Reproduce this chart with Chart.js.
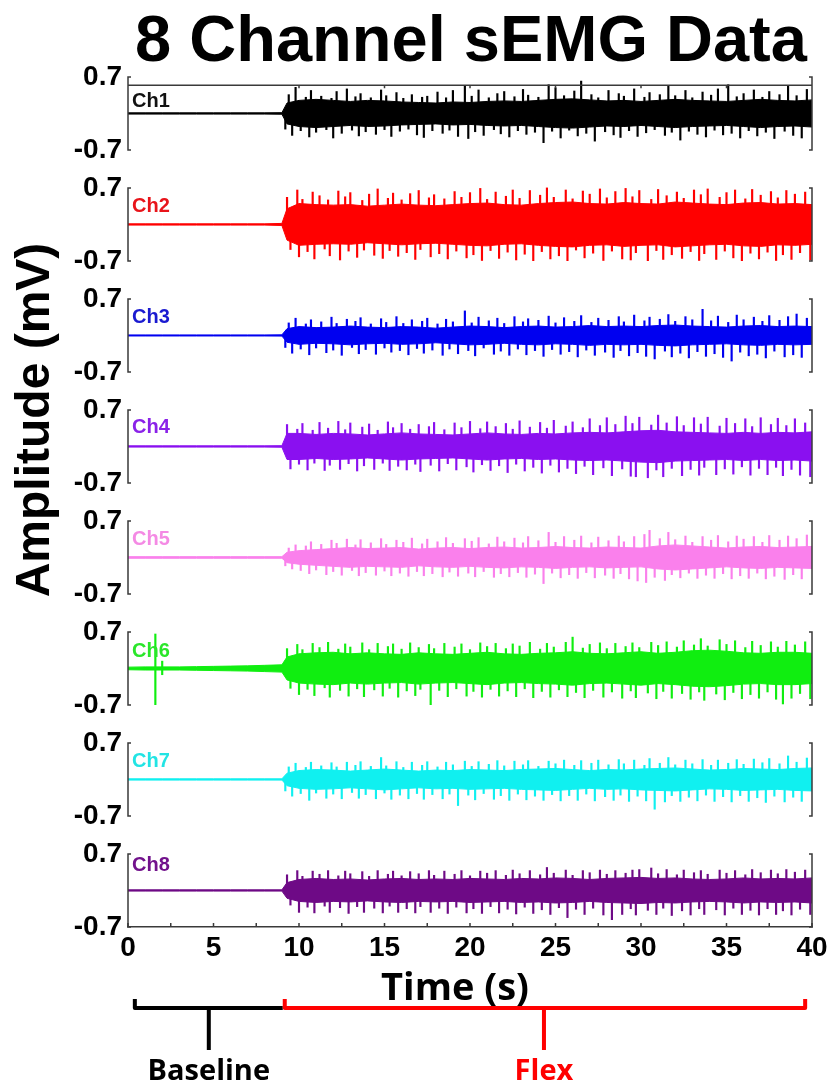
<!DOCTYPE html>
<html>
<head>
<meta charset="utf-8">
<title>8 Channel sEMG Data</title>
<script src="https://cdn.jsdelivr.net/npm/chart.js@4.4.1/dist/chart.umd.min.js"></script>
<style>
  html, body { margin: 0; padding: 0; background: #fff; }
  #wrap { position: relative; width: 831px; height: 1085px; }
</style>
</head>
<body>
<div id="wrap"><canvas id="emg" width="831" height="1085"></canvas></div>
<script>
// 8 channel surface EMG: rest 0-9 s, then flexion to 40 s

const channelNames = ['Ch1', 'Ch2', 'Ch3', 'Ch4', 'Ch5', 'Ch6', 'Ch7', 'Ch8'];
const channelColors = ['#000000', '#ff0000', '#0000f0', '#8a10f0', '#fa80ec', '#10ee10', '#10f0f0', '#6e0a86'];
const labelColors = ['#111111', '#e8141a', '#1a1ad0', '#8a22e8', '#f48ae4', '#2ae62a', '#22e4e4', '#72128c'];
const yTickLabels = ['-0.7', '0.7'];
const xTickLabels = ['0', '5', '10', '15', '20', '25', '30', '35', '40'];

// time base of the dense band (s)
const coreT = [
  0, 1, 2, 3, 4, 5, 6, 7, 8, 9,
  9.3, 10, 11, 12, 13, 14, 15, 16, 17, 18,
  19, 20, 21, 22, 23, 24, 25, 26, 27, 28,
  29, 30, 31, 32, 33, 34, 35, 36, 37, 38,
  39, 40
];
// spike times (s); odd channels use set A, even channels set B
const peakTA = [
  9.4, 9.8, 10.4, 10.7, 11.3, 11.9, 12.2, 12.8, 13.3, 13.6,
  14.2, 14.8, 15.1, 15.7, 16.1, 16.6, 17.2, 17.5, 18.1, 18.6,
  19.0, 19.7, 20.1, 20.5, 21.1, 21.6, 22.0, 22.6, 23.1, 23.4,
  24.0, 24.6, 25.0, 25.5, 26.1, 26.5, 27.1, 27.5, 28.1, 28.7,
  29.0, 29.6, 30.2, 30.5, 31.1, 31.6, 32.0, 32.6, 33.0, 33.6,
  34.1, 34.5, 35.1, 35.6, 36.0, 36.6, 37.1, 37.5, 38.1, 38.6,
  39.1, 39.7
];
const troughTA = [
  9.2, 9.6, 10.1, 10.6, 11.0, 11.6, 12.0, 12.5, 13.1, 13.5,
  13.9, 14.5, 15.0, 15.4, 15.9, 16.4, 16.9, 17.3, 17.8, 18.4,
  18.8, 19.3, 19.9, 20.3, 20.8, 21.4, 21.8, 22.3, 22.8, 23.3,
  23.8, 24.3, 24.8, 25.3, 25.8, 26.3, 26.8, 27.3, 27.9, 28.4,
  28.8, 29.3, 29.8, 30.3, 30.8, 31.4, 31.8, 32.3, 32.8, 33.3,
  33.8, 34.3, 34.8, 35.3, 35.8, 36.3, 36.8, 37.3, 37.8, 38.4,
  38.9, 39.4
];
const peakTB = [
  9.3, 9.9, 10.2, 10.8, 11.2, 11.7, 12.3, 12.7, 13.0, 13.7,
  14.1, 14.6, 15.2, 15.5, 16.0, 16.5, 17.0, 17.6, 17.9, 18.5,
  19.1, 19.5, 20.0, 20.6, 21.0, 21.5, 22.1, 22.5, 22.9, 23.5,
  24.1, 24.5, 24.9, 25.6, 26.0, 26.6, 27.0, 27.6, 28.0, 28.5,
  29.1, 29.5, 29.9, 30.6, 31.0, 31.5, 32.1, 32.5, 33.1, 33.5,
  33.9, 34.6, 35.0, 35.5, 36.1, 36.5, 37.0, 37.6, 38.0, 38.5,
  39.0, 39.6
];
const troughTB = [
  9.5, 10.0, 10.5, 10.9, 11.5, 11.8, 12.4, 12.9, 13.4, 13.8,
  14.4, 14.9, 15.3, 15.8, 16.3, 16.8, 17.1, 17.7, 18.2, 18.7,
  19.2, 19.8, 20.2, 20.7, 21.2, 21.7, 22.2, 22.7, 23.2, 23.7,
  24.2, 24.7, 25.2, 25.7, 26.2, 26.7, 27.2, 27.8, 28.3, 28.9,
  29.4, 29.7, 30.4, 30.9, 31.3, 31.8, 32.4, 32.9, 33.4, 33.7,
  34.4, 34.9, 35.4, 35.9, 36.4, 36.9, 37.4, 37.9, 38.3, 38.8,
  39.3, 39.9
];

// dense-band half amplitude (mV) at coreT
const ch1Core = [
  0.012, 0.012, 0.012, 0.012, 0.012, 0.012, 0.012, 0.012, 0.012, 0.015,
  0.20, 0.25, 0.27, 0.25, 0.23, 0.25, 0.24, 0.22, 0.21, 0.20,
  0.22, 0.21, 0.23, 0.24, 0.23, 0.25, 0.27, 0.28, 0.26, 0.24,
  0.25, 0.23, 0.25, 0.27, 0.25, 0.24, 0.23, 0.25, 0.27, 0.25,
  0.24, 0.26
];
const ch2Core = [
  0.012, 0.012, 0.012, 0.012, 0.012, 0.012, 0.012, 0.012, 0.012, 0.02,
  0.30, 0.40, 0.38, 0.37, 0.38, 0.35, 0.37, 0.39, 0.37, 0.36,
  0.38, 0.40, 0.41, 0.38, 0.37, 0.40, 0.42, 0.43, 0.40, 0.39,
  0.42, 0.40, 0.39, 0.43, 0.41, 0.39, 0.38, 0.41, 0.42, 0.39,
  0.40, 0.38
];
const ch3Core = [
  0.010, 0.010, 0.010, 0.010, 0.010, 0.010, 0.010, 0.010, 0.010, 0.012,
  0.13, 0.17, 0.15, 0.16, 0.18, 0.16, 0.15, 0.17, 0.16, 0.14,
  0.16, 0.18, 0.17, 0.15, 0.17, 0.18, 0.16, 0.17, 0.19, 0.17,
  0.18, 0.17, 0.19, 0.20, 0.18, 0.17, 0.16, 0.18, 0.19, 0.17,
  0.18, 0.17
];
const ch4Core = [
  0.012, 0.012, 0.012, 0.012, 0.012, 0.012, 0.012, 0.012, 0.012, 0.015,
  0.25, 0.25, 0.23, 0.25, 0.24, 0.22, 0.24, 0.26, 0.24, 0.23,
  0.22, 0.24, 0.26, 0.24, 0.23, 0.25, 0.24, 0.26, 0.27, 0.26,
  0.28, 0.30, 0.31, 0.28, 0.27, 0.26, 0.25, 0.27, 0.25, 0.27,
  0.26, 0.28
];
const ch5Core = [
  0.015, 0.015, 0.015, 0.015, 0.015, 0.015, 0.015, 0.015, 0.015, 0.015,
  0.10, 0.13, 0.15, 0.17, 0.19, 0.17, 0.18, 0.19, 0.16, 0.18,
  0.19, 0.17, 0.19, 0.20, 0.18, 0.19, 0.21, 0.19, 0.18, 0.20,
  0.19, 0.18, 0.22, 0.24, 0.22, 0.20, 0.18, 0.20, 0.21, 0.19,
  0.20, 0.21
];
const ch6Core = [
  0.025, 0.03, 0.03, 0.03, 0.035, 0.04, 0.045, 0.05, 0.06, 0.07,
  0.22, 0.28, 0.30, 0.31, 0.28, 0.30, 0.28, 0.27, 0.30, 0.28,
  0.27, 0.29, 0.31, 0.28, 0.27, 0.29, 0.30, 0.32, 0.29, 0.28,
  0.30, 0.32, 0.29, 0.31, 0.34, 0.35, 0.33, 0.30, 0.29, 0.31,
  0.31, 0.29
];
const ch7Core = [
  0.012, 0.012, 0.012, 0.012, 0.012, 0.012, 0.012, 0.012, 0.012, 0.012,
  0.12, 0.17, 0.19, 0.18, 0.16, 0.18, 0.20, 0.18, 0.16, 0.18,
  0.17, 0.19, 0.18, 0.17, 0.19, 0.20, 0.21, 0.19, 0.17, 0.19,
  0.18, 0.20, 0.21, 0.22, 0.20, 0.18, 0.19, 0.21, 0.20, 0.19,
  0.21, 0.22
];
const ch8Core = [
  0.012, 0.012, 0.012, 0.012, 0.012, 0.012, 0.012, 0.012, 0.012, 0.012,
  0.15, 0.21, 0.23, 0.21, 0.22, 0.20, 0.22, 0.23, 0.21, 0.22,
  0.21, 0.23, 0.22, 0.21, 0.23, 0.22, 0.24, 0.23, 0.21, 0.23,
  0.24, 0.25, 0.23, 0.24, 0.22, 0.21, 0.22, 0.24, 0.22, 0.23,
  0.22, 0.24
];

// positive spike tips (mV)
const ch1Peak = [
  0.36, 0.50, 0.31, 0.44, 0.33, 0.29, 0.42, 0.47, 0.32, 0.38,
  0.30, 0.45, 0.34, 0.40, 0.29, 0.36, 0.31, 0.33, 0.41, 0.30,
  0.44, 0.52, 0.33, 0.45, 0.30, 0.38, 0.42, 0.32, 0.46, 0.35,
  0.31, 0.55, 0.49, 0.34, 0.43, 0.62, 0.36, 0.30, 0.44, 0.38,
  0.33, 0.47, 0.31, 0.40, 0.36, 0.52, 0.34, 0.44, 0.30, 0.41,
  0.35, 0.47, 0.55, 0.32, 0.38, 0.45, 0.31, 0.42, 0.36, 0.52,
  0.34, 0.46
];
const ch2Peak = [
  0.52, 0.66, 0.48, 0.62, 0.55, 0.47, 0.64, 0.53, 0.61, 0.46,
  0.58, 0.68, 0.50, 0.60, 0.47, 0.59, 0.65, 0.51, 0.57, 0.49,
  0.63, 0.52, 0.61, 0.69, 0.48, 0.62, 0.54, 0.66, 0.50, 0.65,
  0.56, 0.70, 0.52, 0.66, 0.49, 0.64, 0.58, 0.68, 0.51, 0.63,
  0.69, 0.53, 0.65, 0.48, 0.67, 0.55, 0.62, 0.50, 0.66, 0.57,
  0.68, 0.52, 0.61, 0.66, 0.49, 0.67, 0.56, 0.63, 0.51, 0.65,
  0.58, 0.62
];
const ch3Peak = [
  0.24, 0.33, 0.22, 0.30, 0.26, 0.35, 0.23, 0.31, 0.27, 0.34,
  0.22, 0.32, 0.25, 0.36, 0.23, 0.30, 0.27, 0.33, 0.22, 0.31,
  0.26, 0.47, 0.24, 0.35, 0.28, 0.33, 0.23, 0.36, 0.26, 0.32,
  0.29, 0.37, 0.24, 0.34, 0.27, 0.38, 0.25, 0.33, 0.29, 0.36,
  0.26, 0.39, 0.28, 0.35, 0.31, 0.40, 0.27, 0.36, 0.30, 0.50,
  0.28, 0.37, 0.25, 0.39, 0.30, 0.35, 0.27, 0.38, 0.29, 0.36,
  0.41, 0.33
];
const ch4Peak = [
  0.42, 0.33, 0.44, 0.31, 0.46, 0.35, 0.48, 0.32, 0.45, 0.37,
  0.43, 0.31, 0.47, 0.36, 0.44, 0.33, 0.42, 0.38, 0.46, 0.32,
  0.45, 0.36, 0.48, 0.34, 0.47, 0.38, 0.44, 0.33, 0.49, 0.37,
  0.46, 0.35, 0.50, 0.39, 0.47, 0.36, 0.53, 0.40, 0.55, 0.42,
  0.58, 0.44, 0.56, 0.41, 0.60, 0.45, 0.57, 0.40, 0.55, 0.43,
  0.56, 0.39, 0.54, 0.44, 0.53, 0.38, 0.55, 0.42, 0.54, 0.40,
  0.53, 0.45
];
const ch5Peak = [
  0.18, 0.24, 0.22, 0.30, 0.25, 0.33, 0.27, 0.35, 0.24, 0.34,
  0.28, 0.36, 0.25, 0.33, 0.29, 0.37, 0.26, 0.35, 0.30, 0.38,
  0.27, 0.36, 0.31, 0.38, 0.26, 0.39, 0.30, 0.37, 0.28, 0.40,
  0.32, 0.48, 0.29, 0.40, 0.33, 0.41, 0.28, 0.39, 0.32, 0.41,
  0.30, 0.40, 0.44, 0.52, 0.36, 0.48, 0.34, 0.41, 0.29, 0.40,
  0.33, 0.42, 0.30, 0.41, 0.35, 0.40, 0.29, 0.42, 0.33, 0.41,
  0.36, 0.43
];
const ch6Peak = [
  0.38, 0.46, 0.36, 0.48, 0.40, 0.50, 0.37, 0.47, 0.41, 0.49,
  0.36, 0.48, 0.42, 0.47, 0.37, 0.49, 0.40, 0.46, 0.38, 0.48,
  0.41, 0.47, 0.36, 0.49, 0.42, 0.48, 0.38, 0.47, 0.43, 0.50,
  0.37, 0.48, 0.41, 0.50, 0.60, 0.39, 0.46, 0.49, 0.38, 0.48,
  0.42, 0.49, 0.40, 0.50, 0.44, 0.51, 0.41, 0.53, 0.45, 0.57,
  0.43, 0.55, 0.46, 0.53, 0.40, 0.52, 0.44, 0.51, 0.41, 0.52,
  0.45, 0.51
];
const ch7Peak = [
  0.24, 0.31, 0.23, 0.33, 0.26, 0.32, 0.24, 0.33, 0.27, 0.34,
  0.25, 0.42, 0.26, 0.34, 0.23, 0.33, 0.27, 0.34, 0.24, 0.33,
  0.28, 0.35, 0.25, 0.34, 0.29, 0.36, 0.26, 0.35, 0.28, 0.36,
  0.25, 0.35, 0.30, 0.37, 0.27, 0.36, 0.31, 0.37, 0.28, 0.38,
  0.30, 0.37, 0.27, 0.40, 0.31, 0.42, 0.28, 0.37, 0.30, 0.38,
  0.27, 0.37, 0.31, 0.38, 0.29, 0.39, 0.32, 0.40, 0.30, 0.45,
  0.33, 0.41
];
const ch8Peak = [
  0.30, 0.38, 0.27, 0.37, 0.31, 0.38, 0.28, 0.37, 0.32, 0.36,
  0.27, 0.38, 0.31, 0.37, 0.28, 0.36, 0.32, 0.38, 0.29, 0.37,
  0.31, 0.38, 0.28, 0.37, 0.33, 0.38, 0.29, 0.39, 0.32, 0.38,
  0.30, 0.44, 0.33, 0.39, 0.29, 0.38, 0.34, 0.39, 0.31, 0.38,
  0.33, 0.39, 0.40, 0.43, 0.32, 0.40, 0.30, 0.39, 0.34, 0.38,
  0.31, 0.39, 0.33, 0.38, 0.30, 0.40, 0.34, 0.39, 0.32, 0.40,
  0.35, 0.39
];

// negative spike tips (mV)
const ch1Trough = [
  -0.30, -0.42, -0.33, -0.45, -0.36, -0.31, -0.47, -0.38, -0.32, -0.43,
  -0.35, -0.40, -0.31, -0.44, -0.34, -0.30, -0.41, -0.46, -0.33, -0.38,
  -0.32, -0.44, -0.48, -0.35, -0.42, -0.31, -0.39, -0.45, -0.33, -0.40,
  -0.36, -0.56, -0.34, -0.47, -0.32, -0.43, -0.38, -0.53, -0.35, -0.41,
  -0.46, -0.33, -0.44, -0.37, -0.31, -0.42, -0.36, -0.51, -0.34, -0.40,
  -0.45, -0.32, -0.41, -0.38, -0.47, -0.33, -0.43, -0.36, -0.48, -0.34,
  -0.42, -0.47
];
const ch2Trough = [
  -0.48, -0.62, -0.52, -0.66, -0.47, -0.60, -0.68, -0.51, -0.63, -0.49,
  -0.59, -0.65, -0.50, -0.61, -0.54, -0.67, -0.48, -0.62, -0.56, -0.66,
  -0.51, -0.64, -0.58, -0.69, -0.50, -0.65, -0.53, -0.68, -0.57, -0.70,
  -0.52, -0.66, -0.60, -0.70, -0.49, -0.64, -0.55, -0.69, -0.51, -0.66,
  -0.68, -0.54, -0.70, -0.50, -0.67, -0.58, -0.65, -0.52, -0.69, -0.56,
  -0.67, -0.51, -0.64, -0.70, -0.55, -0.66, -0.53, -0.69, -0.58, -0.67,
  -0.54, -0.68
];
const ch3Trough = [
  -0.23, -0.34, -0.26, -0.37, -0.24, -0.33, -0.28, -0.38, -0.23, -0.35,
  -0.27, -0.36, -0.24, -0.32, -0.29, -0.37, -0.25, -0.34, -0.28, -0.38,
  -0.26, -0.35, -0.29, -0.39, -0.24, -0.36, -0.30, -0.38, -0.26, -0.37,
  -0.29, -0.40, -0.27, -0.36, -0.31, -0.41, -0.28, -0.38, -0.32, -0.42,
  -0.29, -0.39, -0.33, -0.40, -0.45, -0.30, -0.41, -0.34, -0.43, -0.31,
  -0.40, -0.35, -0.42, -0.49, -0.32, -0.39, -0.36, -0.43, -0.30, -0.41,
  -0.37, -0.42
];
const ch4Trough = [
  -0.43, -0.34, -0.45, -0.32, -0.46, -0.36, -0.44, -0.33, -0.47, -0.37,
  -0.44, -0.32, -0.46, -0.38, -0.45, -0.34, -0.48, -0.36, -0.47, -0.33,
  -0.45, -0.39, -0.49, -0.35, -0.46, -0.37, -0.50, -0.34, -0.47, -0.40,
  -0.51, -0.36, -0.49, -0.42, -0.52, -0.38, -0.54, -0.41, -0.56, -0.43,
  -0.57, -0.58, -0.60, -0.45, -0.58, -0.42, -0.56, -0.44, -0.55, -0.40,
  -0.54, -0.43, -0.53, -0.39, -0.55, -0.42, -0.54, -0.40, -0.56, -0.44,
  -0.55, -0.58
];
const ch5Trough = [
  -0.16, -0.22, -0.25, -0.31, -0.24, -0.33, -0.27, -0.34, -0.25, -0.35,
  -0.29, -0.34, -0.26, -0.35, -0.30, -0.36, -0.27, -0.35, -0.31, -0.37,
  -0.28, -0.36, -0.30, -0.37, -0.27, -0.38, -0.31, -0.37, -0.29, -0.38,
  -0.32, -0.50, -0.30, -0.39, -0.33, -0.40, -0.29, -0.39, -0.34, -0.40,
  -0.31, -0.41, -0.45, -0.48, -0.38, -0.44, -0.33, -0.39, -0.30, -0.40,
  -0.34, -0.40, -0.31, -0.41, -0.35, -0.40, -0.30, -0.41, -0.36, -0.42,
  -0.33, -0.41
];
const ch6Trough = [
  -0.38, -0.50, -0.40, -0.52, -0.37, -0.55, -0.42, -0.53, -0.39, -0.54,
  -0.41, -0.53, -0.38, -0.55, -0.43, -0.52, -0.40, -0.70, -0.42, -0.54,
  -0.39, -0.53, -0.44, -0.55, -0.40, -0.53, -0.43, -0.54, -0.39, -0.56,
  -0.44, -0.55, -0.41, -0.54, -0.46, -0.56, -0.42, -0.55, -0.45, -0.57,
  -0.43, -0.56, -0.47, -0.58, -0.44, -0.57, -0.48, -0.59, -0.45, -0.61,
  -0.49, -0.60, -0.46, -0.58, -0.50, -0.57, -0.45, -0.59, -0.68, -0.57,
  -0.48, -0.58
];
const ch7Trough = [
  -0.22, -0.32, -0.27, -0.40, -0.26, -0.36, -0.28, -0.37, -0.25, -0.36,
  -0.29, -0.37, -0.26, -0.38, -0.30, -0.37, -0.27, -0.38, -0.29, -0.37,
  -0.28, -0.50, -0.30, -0.39, -0.27, -0.38, -0.31, -0.40, -0.28, -0.39,
  -0.32, -0.40, -0.29, -0.41, -0.31, -0.40, -0.28, -0.41, -0.33, -0.40,
  -0.30, -0.42, -0.32, -0.41, -0.57, -0.43, -0.31, -0.42, -0.34, -0.41,
  -0.30, -0.42, -0.33, -0.43, -0.31, -0.42, -0.35, -0.44, -0.32, -0.43,
  -0.34, -0.42
];
const ch8Trough = [
  -0.28, -0.42, -0.32, -0.43, -0.30, -0.42, -0.33, -0.44, -0.31, -0.42,
  -0.34, -0.43, -0.30, -0.42, -0.35, -0.43, -0.31, -0.42, -0.34, -0.44,
  -0.32, -0.43, -0.35, -0.44, -0.31, -0.43, -0.36, -0.45, -0.32, -0.44,
  -0.37, -0.46, -0.33, -0.52, -0.36, -0.46, -0.34, -0.47, -0.56, -0.46,
  -0.35, -0.47, -0.38, -0.46, -0.34, -0.48, -0.39, -0.47, -0.35, -0.46,
  -0.37, -0.47, -0.34, -0.46, -0.38, -0.47, -0.35, -0.46, -0.39, -0.47,
  -0.36, -0.46
];

// movement artefact on Ch6 during rest
const ch6ArtifactT = [1.6, 2.0];
const ch6ArtifactHi = [0.66, 0.14];
const ch6ArtifactLo = [-0.70, -0.12];

// task phases under the time axis
const phaseNames = ['Baseline', 'Flex'];
const phaseStart = [0.4, 9.05];
const phaseEnd = [9.05, 39.6];
const phaseColors = ['#000000', '#ff0000'];

const coreSets = [ch1Core, ch2Core, ch3Core, ch4Core, ch5Core, ch6Core, ch7Core, ch8Core];
const peakSets = [ch1Peak, ch2Peak, ch3Peak, ch4Peak, ch5Peak, ch6Peak, ch7Peak, ch8Peak];
const troughSets = [ch1Trough, ch2Trough, ch3Trough, ch4Trough, ch5Trough, ch6Trough, ch7Trough, ch8Trough];

// label baseline inside each strip, in mV
const labelLevel = [0.13, 0.23, 0.23, 0.25, 0.23, 0.21, 0.23, 0.38];

const FONT = "'Liberation Sans', Arial, sans-serif";
const SOFT = "'Open Sans', 'Liberation Sans', sans-serif";
const AXIS = '#3a3a3a';
const GAP = 0.726; // blank space above each strip, in mV

Chart.defaults.font.family = FONT;

const datasets = [];
channelNames.forEach((name, i) => {
  const axis = 'y' + (i + 1);
  const col = channelColors[i];
  const pT = i % 2 ? peakTB : peakTA;
  const tT = i % 2 ? troughTB : troughTA;
  datasets.push({
    type: 'line', label: name + ' +', yAxisID: axis,
    data: coreT.map((t, k) => ({ x: t, y: coreSets[i][k] })),
    borderColor: col, borderWidth: 1, pointRadius: 0, tension: 0, fill: false
  });
  datasets.push({
    type: 'line', label: name + ' -', yAxisID: axis,
    data: coreT.map((t, k) => ({ x: t, y: -coreSets[i][k] })),
    borderColor: col, borderWidth: 1, pointRadius: 0, tension: 0,
    backgroundColor: col, fill: '-1'
  });
  datasets.push({
    type: 'bar', label: name + ' peaks', yAxisID: axis,
    data: pT.map((t, k) => ({ x: t, y: [0, peakSets[i][k]] })),
    backgroundColor: col, barThickness: 1.5, grouped: false
  });
  datasets.push({
    type: 'bar', label: name + ' troughs', yAxisID: axis,
    data: tT.map((t, k) => ({ x: t, y: [troughSets[i][k], 0] })),
    backgroundColor: col, barThickness: 1.5, grouped: false
  });
});
datasets.push({
  type: 'bar', label: 'Ch6 artefact', yAxisID: 'y6',
  data: ch6ArtifactT.map((t, k) => ({ x: t, y: [ch6ArtifactLo[k], ch6ArtifactHi[k]] })),
  backgroundColor: channelColors[5], barThickness: 1.5, grouped: false
});

// one strip per channel, stacked down the left side
const scales = {
  x: {
    type: 'linear', position: 'bottom', min: 0, max: 40, offset: false,
    grid: { display: false, drawTicks: false, offset: false },
    border: { display: true, color: AXIS, width: 1.5 },
    afterBuildTicks: s => { s.ticks = xTickLabels.map(v => ({ value: Number(v) })); },
    ticks: {
      autoSkip: false, maxRotation: 0, padding: 4, color: '#000',
      font: { size: 28, weight: 'bold' },
      callback: (v, k) => xTickLabels[k]
    },
    afterFit: s => { s.height = 158; s.paddingLeft = 0; s.paddingRight = 0; }
  }
};
for (let i = channelNames.length; i >= 1; i--) {
  scales['y' + i] = {
    type: 'linear', position: 'left', stack: 'emg', stackWeight: 1, offset: false,
    min: -0.7, max: 0.7 + GAP,
    grid: { display: false, drawTicks: false },
    border: { display: false },
    afterBuildTicks: s => { s.ticks = [{ value: -0.7 }, { value: 0.7 }]; },
    ticks: {
      padding: 6, color: '#000', font: { size: 28, weight: 'bold' },
      callback: (v, k) => yTickLabels[k]
    },
    afterFit: s => { s.width = 128; s.paddingTop = 0; s.paddingBottom = 0; }
  };
}

const decor = {
  id: 'emgDecor',
  afterDraw(chart) {
    const ctx = chart.ctx;
    const xs = chart.scales.x;
    const L = xs.left, R = xs.right, B = xs.top;
    ctx.save();
    ctx.strokeStyle = AXIS;
    ctx.lineWidth = 1.5;

    channelNames.forEach((name, i) => {
      const ys = chart.scales['y' + (i + 1)];
      const top = ys.getPixelForValue(0.7);
      const bot = ys.getPixelForValue(-0.7);
      ctx.beginPath();
      ctx.moveTo(L + 3, top); ctx.lineTo(L, top); ctx.lineTo(L, bot); ctx.lineTo(L + 3, bot);
      ctx.moveTo(R - 3, top); ctx.lineTo(R, top); ctx.lineTo(R, bot); ctx.lineTo(R - 3, bot);
      ctx.stroke();
      if (i === 0) {
        // upper frame of the first strip
        const fy = ys.getPixelForValue(0.54);
        ctx.beginPath();
        ctx.moveTo(L, fy); ctx.lineTo(R, fy);
        [10, 15, 20, 25, 30, 35].forEach(t => {
          const px = xs.getPixelForValue(t);
          ctx.moveTo(px, fy); ctx.lineTo(px, fy + 3);
        });
        ctx.stroke();
      }
      ctx.fillStyle = labelColors[i];
      ctx.font = 'bold 20px ' + FONT;
      ctx.textAlign = 'left';
      ctx.textBaseline = 'alphabetic';
      ctx.fillText(name, L + 4, ys.getPixelForValue(labelLevel[i]));
    });

    // inward ticks on the time axis
    ctx.beginPath();
    for (let t = 0; t <= 40; t += 2.5) {
      const px = xs.getPixelForValue(t);
      ctx.moveTo(px, B); ctx.lineTo(px, B - 4);
    }
    ctx.stroke();

    // title and axis titles
    ctx.fillStyle = '#000';
    ctx.textAlign = 'center';
    ctx.font = 'bold 65px ' + FONT;
    ctx.fillText('8 Channel sEMG Data', 471, 61);
    ctx.font = 'bold 38px ' + SOFT;
    ctx.fillText('Time (s)', 455, 1000);
    ctx.save();
    ctx.translate(49, 420);
    ctx.rotate(-Math.PI / 2);
    ctx.font = 'bold 48px ' + FONT;
    ctx.fillText('Amplitude (mV)', 0, 0);
    ctx.restore();

    // phase brackets
    const by = 1008;
    ctx.lineWidth = 4;
    ctx.lineJoin = 'round';
    ctx.lineCap = 'butt';
    phaseNames.forEach((p, i) => {
      const x0 = xs.getPixelForValue(phaseStart[i]);
      const x1 = xs.getPixelForValue(phaseEnd[i]);
      const xm = xs.getPixelForValue((phaseStart[i] + phaseEnd[i]) / 2);
      ctx.strokeStyle = phaseColors[i];
      ctx.beginPath();
      ctx.moveTo(x0 + (i ? 2 : 0), by - 9);
      ctx.lineTo(x0 + (i ? 2 : 0), by);
      ctx.lineTo(x1, by);
      if (i) ctx.lineTo(x1, by - 9);
      ctx.moveTo(xm, by);
      ctx.lineTo(xm, 1050);
      ctx.stroke();
      ctx.fillStyle = phaseColors[i];
      ctx.font = 'bold 29px ' + SOFT;
      ctx.fillText(p, xm, 1080);
    });
    ctx.restore();
  }
};

new Chart(document.getElementById('emg'), {
  type: 'line',
  data: { datasets },
  options: {
    responsive: false,
    devicePixelRatio: 1,
    animation: false,
    layout: { padding: { top: 39, right: 19, bottom: 0, left: 0 } },
    plugins: { legend: { display: false }, tooltip: { enabled: false } },
    scales
  },
  plugins: [decor]
});
</script>
</body>
</html>
